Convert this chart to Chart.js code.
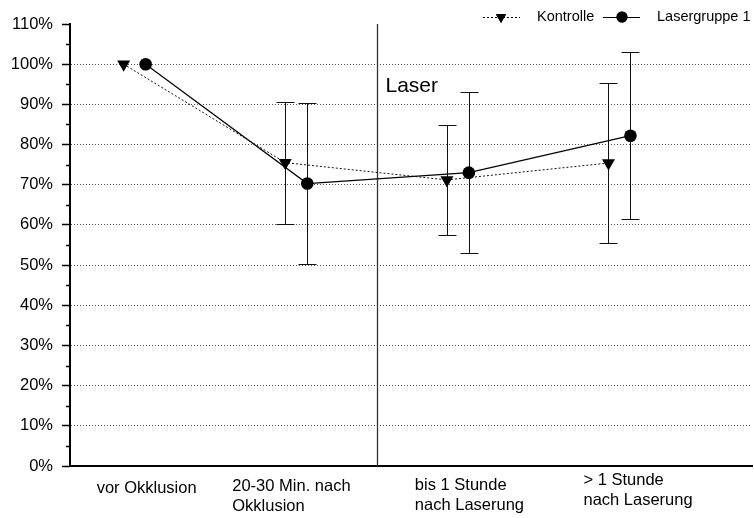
<!DOCTYPE html>
<html>
<head>
<meta charset="utf-8">
<script src="https://cdn.jsdelivr.net/npm/chart.js@4/dist/chart.umd.min.js"></script>
<style>
  body { margin: 0; background: #fff; }
</style>
</head>
<body>
<canvas id="chart" width="754" height="518"></canvas>
<script>
// values
const categories = [['vor Okklusion'], ['20-30 Min. nach', 'Okklusion'], ['bis 1 Stunde', 'nach Laserung'], ['> 1 Stunde', 'nach Laserung']];
const kontrolle = [100, 75.5, 71.2, 75.4];
const kontrolleErr = [0, 15.2, 13.7, 19.9];
const laser = [100, 70.3, 73.0, 82.2];
const laserErr = [0, 20.0, 20.0, 20.8];
const seriesNames = ['Kontrolle', 'Lasergruppe 1'];
const laserStart = 2.5; // between 2nd and 3rd time point

const FONT = "'Liberation Sans', Arial, sans-serif";
const shift = 0.068; // the two groups sit a little apart

// label placement tweaks (pixels, relative to category position)
const labelNudge = [-38, -64, -43, -36];
const labelBase = [493, 491, 490, 485];

function toPoints(vals, dx) {
    return vals.map((v, i) => ({ x: i + 1 + dx, y: v }));
}

// error bars + laser marker line
const errorBars = {
    id: 'errorBars',
    beforeDatasetsDraw(chart) {
        const { ctx, chartArea, scales: { x, y } } = chart;
        ctx.save();
        // vertical line where the laser starts
        const lx = Math.round(x.getPixelForValue(laserStart)) + 0.5;
        ctx.strokeStyle = '#333';
        ctx.lineWidth = 1.3;
        ctx.beginPath();
        ctx.moveTo(lx, chartArea.top);
        ctx.lineTo(lx, chartArea.bottom);
        ctx.stroke();
        ctx.fillStyle = '#000';
        ctx.font = '21px ' + FONT;
        ctx.textBaseline = 'alphabetic';
        ctx.fillText('Laser', lx + 8, 92);

        chart.data.datasets.forEach(ds => {
            ds.data.forEach((p, i) => {
                const e = ds.errors[i];
                if (!e) return;
                const px = Math.round(x.getPixelForValue(p.x)) + 0.5;
                const top = Math.round(y.getPixelForValue(p.y + e)) + 0.5;
                const bot = Math.round(y.getPixelForValue(p.y - e)) + 0.5;
                ctx.strokeStyle = '#111';
                ctx.lineWidth = 1;
                ctx.setLineDash([]);
                ctx.beginPath();
                ctx.moveTo(px, top); ctx.lineTo(px, bot);
                ctx.moveTo(px - 9, top); ctx.lineTo(px + 9, top);
                ctx.moveTo(px - 9, bot); ctx.lineTo(px + 9, bot);
                ctx.stroke();
            });
        });
        ctx.restore();
    }
};

// minor y ticks, category labels and the legend
const extras = {
    id: 'extras',
    afterDraw(chart) {
        const { ctx, chartArea, scales: { x, y } } = chart;
        ctx.save();
        ctx.strokeStyle = '#000';
        ctx.lineWidth = 1.5;
        ctx.beginPath();
        for (let v = 5; v < 110; v += 10) {
            const py = Math.round(y.getPixelForValue(v)) + 0.5;
            ctx.moveTo(chartArea.left - 4, py);
            ctx.lineTo(chartArea.left, py);
        }
        ctx.stroke();

        // category labels
        ctx.fillStyle = '#000';
        ctx.font = '16.5px ' + FONT;
        ctx.textAlign = 'left';
        ctx.textBaseline = 'alphabetic';
        categories.forEach((lines, i) => {
            const px = x.getPixelForValue(i + 1) + labelNudge[i];
            lines.forEach((t, j) => ctx.fillText(t, px, labelBase[i] + j * 20));
        });

        // legend
        const ly = 17;
        ctx.font = '14.5px ' + FONT;
        ctx.textBaseline = 'middle';
        ctx.lineWidth = 1;
        ctx.strokeStyle = '#000';
        ctx.setLineDash([2, 2]);
        ctx.beginPath();
        ctx.moveTo(483, ly + 0.5); ctx.lineTo(520, ly + 0.5);
        ctx.stroke();
        ctx.setLineDash([]);
        Chart.helpers.drawPoint(ctx, { pointStyle: 'triangle', radius: 6, rotation: 180 }, 501, ly);
        ctx.fill();
        ctx.fillText(seriesNames[0], 537, ly);

        ctx.beginPath();
        ctx.moveTo(603, ly + 0.5); ctx.lineTo(640, ly + 0.5);
        ctx.stroke();
        Chart.helpers.drawPoint(ctx, { pointStyle: 'circle', radius: 5.5 }, 622, ly);
        ctx.fill();
        ctx.fillText(seriesNames[1], 657, ly);
        ctx.restore();
    }
};

new Chart(document.getElementById('chart'), {
    type: 'line',
    data: {
        datasets: [{
            label: seriesNames[0],
            data: toPoints(kontrolle, -shift),
            errors: kontrolleErr,
            borderColor: '#111',
            borderWidth: 1,
            borderDash: [2, 2],
            pointStyle: 'triangle',
            rotation: 180,
            pointRadius: 7.5,
            pointBackgroundColor: '#000',
            pointBorderColor: '#000',
            pointBorderWidth: 0,
            tension: 0
        }, {
            label: seriesNames[1],
            data: toPoints(laser, shift),
            errors: laserErr,
            borderColor: '#000',
            borderWidth: 1.2,
            pointStyle: 'circle',
            pointRadius: 6.3,
            pointBackgroundColor: '#000',
            pointBorderColor: '#000',
            pointBorderWidth: 0,
            tension: 0
        }]
    },
    options: {
        responsive: false,
        animation: false,
        layout: { autoPadding: false, padding: { top: 24, right: 2, left: 0, bottom: 0 } },
        plugins: {
            legend: { display: false },
            tooltip: { enabled: false }
        },
        scales: {
            x: {
                type: 'linear',
                min: 0.6,
                max: 4.82,
                afterFit: s => { s.height = 52; },
                grid: { display: false },
                ticks: { display: false },
                border: { display: true, color: '#000', width: 2 }
            },
            y: {
                min: 0,
                max: 110,
                afterFit: s => { s.width = 70; },
                ticks: {
                    stepSize: 10,
                    padding: 9,
                    color: '#000',
                    font: { family: FONT, size: 16.5 },
                    callback: v => v + '%'
                },
                grid: {
                    color: c => (c.tick && (c.tick.value === 0 || c.tick.value === 110)) ? 'rgba(0,0,0,0)' : '#555',
                    lineWidth: 1,
                    tickLength: 8,
                    tickColor: '#000',
                    tickWidth: 1.5,
                    tickBorderDash: []
                },
                border: { display: true, color: '#000', width: 2, dash: [1, 2] }
            }
        }
    },
    plugins: [errorBars, extras]
});
</script>
</body>
</html>
